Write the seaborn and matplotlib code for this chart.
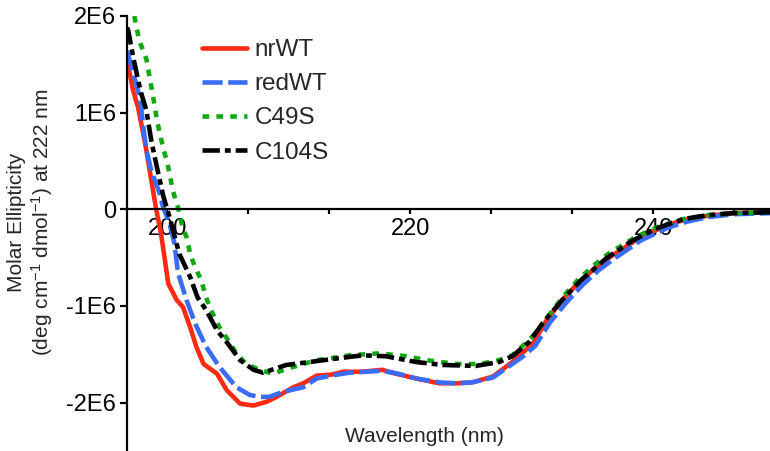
import numpy as np
import pandas as pd
import matplotlib
matplotlib.use("Agg")
import matplotlib.pyplot as plt
import seaborn as sns

# ---- data (molar ellipticity in units of 1E6) ----
series_names = ["nrWT", "redWT", "C49S", "C104S"]

wl_nrwt = [196.7, 197.2, 197.6, 198.2, 198.7, 199.1, 199.5, 200.1, 200.8, 201.3, 201.9, 202.4, 203.0,
           204.1, 204.9, 206.0, 207.1, 208.2, 209.0, 210.4, 211.2, 212.3, 213.5, 214.5, 216.0, 217.7,
           218.8, 220.5, 222.4, 223.8, 225.1, 226.8, 228.4, 229.1, 230.1, 231.2, 232.5, 233.9, 235.2,
           236.6, 238.8, 241.0, 242.5, 244.3, 246.5, 249.6]
cd_nrwt = [1.55, 1.23, 1.06, 0.68, 0.30, 0.00, -0.25, -0.77, -0.94, -1.01, -1.22, -1.42, -1.60,
           -1.70, -1.87, -2.01, -2.03, -1.99, -1.94, -1.84, -1.80, -1.72, -1.71, -1.68, -1.68, -1.66,
           -1.70, -1.75, -1.80, -1.80, -1.79, -1.73, -1.58, -1.50, -1.39, -1.15, -0.94, -0.75, -0.61,
           -0.48, -0.30, -0.17, -0.11, -0.07, -0.04, -0.03]

wl_redwt = [196.7, 197.3, 197.8, 198.0, 198.3, 198.7, 199.4, 199.6, 200.2, 200.6, 200.9, 201.6, 202.3,
            203.2, 204.3, 205.7, 206.8, 207.6, 208.4, 209.5, 211.2, 212.3, 213.5, 215.0, 217.7, 219.0,
            220.5, 222.4, 223.8, 225.1, 226.8, 228.4, 229.3, 230.3, 231.5, 232.8, 234.2, 235.5, 236.9,
            239.0, 241.2, 242.7, 244.5, 246.7, 249.6]
cd_redwt = [1.64, 1.37, 1.13, 0.89, 0.61, 0.40, 0.16, 0.05, -0.15, -0.35, -0.66, -0.94, -1.18,
            -1.42, -1.63, -1.84, -1.92, -1.94, -1.94, -1.89, -1.84, -1.75, -1.72, -1.69, -1.67, -1.70,
            -1.75, -1.79, -1.80, -1.79, -1.74, -1.60, -1.52, -1.41, -1.17, -0.97, -0.78, -0.63, -0.50,
            -0.32, -0.19, -0.13, -0.08, -0.05, -0.04]

wl_c49s = [197.3, 197.7, 198.3, 198.8, 199.2, 199.7, 200.0, 200.5, 200.9, 201.2, 201.6, 201.9, 202.3,
           202.8, 203.2, 203.6, 204.3, 205.0, 205.7, 206.5, 207.6, 208.7, 210.1, 212.3, 213.5, 215.0,
           217.5, 219.7, 221.3, 223.8, 225.7, 227.3, 228.4, 229.8, 230.5, 231.5, 232.6, 233.8, 235.1,
           236.3, 238.5, 240.4, 242.5, 244.5, 246.5, 249.6]
cd_c49s = [2.00, 1.75, 1.55, 1.20, 0.90, 0.62, 0.49, 0.18, 0.02, -0.15, -0.29, -0.46, -0.60,
           -0.73, -0.91, -1.04, -1.22, -1.35, -1.49, -1.60, -1.66, -1.70, -1.64, -1.56, -1.54, -1.51,
           -1.49, -1.52, -1.56, -1.60, -1.60, -1.56, -1.51, -1.35, -1.25, -1.08, -0.90, -0.73, -0.58,
           -0.46, -0.29, -0.18, -0.10, -0.06, -0.04, -0.03]

wl_c104s = [196.7, 196.8, 197.2, 197.8, 198.3, 198.7, 199.1, 199.7, 200.2, 201.0, 201.9, 202.5, 203.2,
            204.1, 205.0, 206.0, 207.1, 207.9, 209.8, 211.7, 213.5, 216.1, 218.0, 220.5, 222.7, 225.4,
            227.3, 228.4, 229.8, 231.0, 232.5, 234.0, 236.1, 238.2, 240.2, 242.5, 244.5, 246.5, 249.6]
cd_c104s = [1.88, 1.85, 1.58, 1.23, 1.02, 0.71, 0.47, 0.13, -0.08, -0.46, -0.70, -0.91, -1.04,
            -1.25, -1.39, -1.56, -1.66, -1.69, -1.61, -1.58, -1.55, -1.51, -1.52, -1.58, -1.61, -1.62,
            -1.58, -1.52, -1.37, -1.16, -0.94, -0.74, -0.51, -0.33, -0.20, -0.10, -0.06, -0.04, -0.03]

y_ticks = [-2e6, -1e6, 0, 1e6, 2e6]
y_tick_labels = ["-2E6", "-1E6", "0", "1E6", "2E6"]
x_ticks = [200, 220, 240]
x_tick_labels = ["200", "220", "240"]

# ---- style ----
sns.set_theme(style="white")
plt.rcParams["font.family"] = ["Liberation Sans", "DejaVu Sans"]
plt.rcParams["mathtext.fontset"] = "custom"
plt.rcParams["mathtext.rm"] = "Liberation Sans"
plt.rcParams["mathtext.it"] = "Liberation Sans:italic"
plt.rcParams["lines.scale_dashes"] = False

fig = plt.figure(figsize=(7.7, 4.51), dpi=100)
ax = fig.add_axes([127 / 770, 0.0, 1 - 127 / 770, 1 - 16 / 451])

colors = ["#ff2a12", "#3b6cf5", "#14a814", "#000000"]
styles = ["-", (0, (14.5, 4.0)), (0, (4.8, 5.2)), (0, (12.5, 3.6, 4.2, 3.6))]
wls = [wl_nrwt, wl_redwt, wl_c49s, wl_c104s]
cds = [cd_nrwt, cd_redwt, cd_c49s, cd_c104s]

for name, wl, cd, c, ls in zip(series_names, wls, cds, colors, styles):
    df = pd.DataFrame({"wl": wl, "cd": np.array(cd) * 1e6})
    sns.lineplot(data=df, x="wl", y="cd", ax=ax, color=c, linewidth=3.3,
                 linestyle=ls, label=name, estimator=None, sort=True)

ax.set_xlim(196.7, 249.6)
ax.set_ylim(-2.5e6, 2.0e6)

for s in ["top", "right"]:
    ax.spines[s].set_visible(False)
ax.spines["bottom"].set_position(("data", 0))
ax.spines["left"].set_position(("data", 196.7))
for s in ["left", "bottom"]:
    ax.spines[s].set_linewidth(1.6)
    ax.spines[s].set_color("black")

ax.set_yticks(y_ticks)
ax.set_yticklabels(y_tick_labels)
ax.set_xticks(x_ticks)
ax.set_xticklabels(x_tick_labels)
ax.set_xticks([200 + 20 / 3 * k for k in range(8) if k % 3 != 0], minor=True)
ax.tick_params(axis="both", which="both", direction="out", color="black", width=1.6,
               labelsize=17, labelcolor="black")
ax.tick_params(axis="y", length=5, pad=3)
ax.tick_params(axis="x", which="both", length=3.5, pad=3)
ax.tick_params(axis="x", which="both", bottom=True)
ax.tick_params(axis="y", left=True)
ax.set_xlabel("")
ax.set_ylabel("")

fig.text(424 / 770, 1 - 437 / 451, "Wavelength (nm)", ha="center", va="center", fontsize=15)
fig.text(31 / 770, 1 - 222 / 451,
         "Molar Ellipticity\n(deg cm$^{-1}$ dmol$^{-1}$) at 222 nm",
         ha="center", va="center", rotation=90, fontsize=15, linespacing=1.15, multialignment="center")

leg = ax.legend(loc="upper left", bbox_to_anchor=(190 / 770, 1 - 27 / 451),
                bbox_transform=fig.transFigure, frameon=False, fontsize=17.5,
                handlelength=1.85, handletextpad=0.3, labelspacing=0.5, borderpad=0)

fig.savefig("out.png", dpi=100)
